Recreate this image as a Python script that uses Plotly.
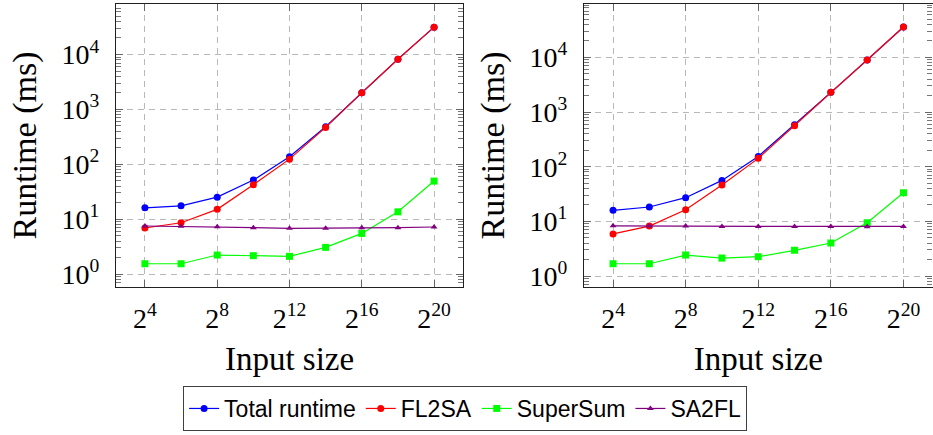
import plotly.graph_objects as go

# ---- data ----
input_exponents = [4, 6, 8, 10, 12, 14, 16, 18, 20]
input_sizes = [2 ** k for k in input_exponents]

left_total = [16.1, 17.5, 25.2, 51.5, 137, 482, 2005, 8220, 31500]
left_fl2sa = [6.9, 8.6, 15.1, 42.4, 124, 469, 2000, 8200, 31500]
left_supersum = [1.54, 1.54, 2.22, 2.16, 2.10, 3.06, 5.5, 13.6, 49.4]
left_sa2fl = [7.5, 7.4, 7.3, 7.0, 6.8, 6.8, 7.0, 7.0, 7.2]

right_total = [15.9, 18.3, 27.1, 56.2, 154, 587, 2290, 8940, 35900]
right_fl2sa = [5.9, 8.2, 16.3, 46.2, 142, 562, 2290, 8940, 35900]
right_supersum = [1.68, 1.68, 2.42, 2.13, 2.26, 2.95, 4.02, 9.46, 33.4]
right_sa2fl = [8.3, 8.2, 8.2, 8.1, 8.1, 8.1, 8.1, 8.0, 8.1]

series_names = ["Total runtime", "FL2SA", "SuperSum", "SA2FL"]
series_colors = ["#0000ff", "#ff0000", "#00ff00", "#800080"]
series_symbols = ["circle", "circle", "square", "triangle-up"]
series_sizes = [7, 7, 7, 6]

x_tickvals = [2 ** 4, 2 ** 8, 2 ** 12, 2 ** 16, 2 ** 20]
x_ticktext = ["2<sup>4</sup>", "2<sup>8</sup>", "2<sup>12</sup>", "2<sup>16</sup>", "2<sup>20</sup>"]
y_tickvals = [1, 10, 100, 1000, 10000]
y_ticktext = ["10<sup>0</sup>", "10<sup>1</sup>", "10<sup>2</sup>", "10<sup>3</sup>", "10<sup>4</sup>"]

fig = go.Figure()

panels = [
    ("x", "y", [left_total, left_fl2sa, left_supersum, left_sa2fl], True),
    ("x2", "y2", [right_total, right_fl2sa, right_supersum, right_sa2fl], False),
]
for xa, ya, data, show in panels:
    for name, vals, col, sym, sz in zip(series_names, data, series_colors, series_symbols, series_sizes):
        fig.add_trace(go.Scatter(
            x=input_sizes, y=vals, name=name, xaxis=xa, yaxis=ya,
            mode="lines+markers", showlegend=show,
            line=dict(color=col, width=1.2),
            marker=dict(color=col, symbol=sym, size=sz, line=dict(width=0)),
        ))

serif = "Liberation Serif"
grid = dict(showgrid=True, gridcolor="#b8b8b8", gridwidth=1, griddash="6px,5px")
axis_common = dict(
    showline=True, linecolor="#202020", linewidth=1.3, mirror="ticks",
    ticks="inside", ticklen=7, tickcolor="#666666", tickwidth=1,
    tickfont=dict(family=serif, size=28, color="black"),
    zeroline=False, automargin=False, **grid,
)

xlog_range = [2.4 * 0.30103, 21.6 * 0.30103]

def xaxis_cfg(domain):
    return dict(
        type="log", domain=domain, range=xlog_range,
        tickmode="array", tickvals=x_tickvals, ticktext=x_ticktext,
        ticklabelstandoff=6,
        title=dict(text="Input size", font=dict(family=serif, size=33, color="black"), standoff=14),
        **axis_common,
    )

def yaxis_cfg(domain, rng, anchor):
    return dict(
        type="log", domain=domain, range=rng, anchor=anchor,
        tickmode="array", tickvals=y_tickvals, ticktext=y_ticktext,
        ticklabelstandoff=10,
        minor=dict(ticks="inside", ticklen=5, tickcolor="#777777", dtick="D1", showgrid=False),
        title=dict(text="Runtime (ms)", font=dict(family=serif, size=34, color="black"), standoff=14),
        **axis_common,
    )

ydom = [1 - 287 / 435, 1 - 4 / 435]
fig.update_layout(
    width=933, height=435,
    margin=dict(l=0, r=0, t=0, b=0),
    paper_bgcolor="white", plot_bgcolor="white",
    xaxis=xaxis_cfg([116 / 933, 463 / 933]) | dict(anchor="y"),
    yaxis=yaxis_cfg(ydom, [-0.236, 4.92], "x"),
    xaxis2=xaxis_cfg([584 / 933, 932.5 / 933]) | dict(anchor="y2"),
    yaxis2=yaxis_cfg(ydom, [-0.2, 4.975], "x2"),
    legend=dict(
        orientation="h", x=0.4985, xanchor="center", y=1 - 386 / 435, yanchor="top",
        bordercolor="#404040", borderwidth=1, bgcolor="white",
        font=dict(family="Liberation Sans", size=23, color="black"),
        itemwidth=30, tracegroupgap=0,
    ),
)

fig.write_html("out.html")
